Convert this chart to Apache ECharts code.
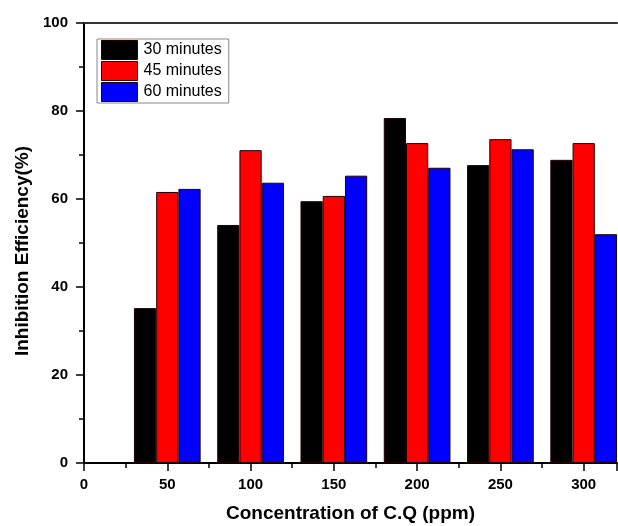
<!DOCTYPE html>
<html>
<head>
<meta charset="utf-8">
<script src="https://cdn.jsdelivr.net/npm/echarts@6/dist/echarts.min.js"></script>
<style>html,body{margin:0;padding:0;background:#fff}#c{width:618px;height:526px}</style>
</head>
<body>
<div id="c"></div>
<script>
const concentrations = [50, 100, 150, 200, 250, 300];
const seriesNames = ['30 minutes', '45 minutes', '60 minutes'];
const min30 = [35.2, 54.1, 59.5, 78.4, 67.7, 68.9];
const min45 = [61.6, 71.1, 60.7, 72.7, 73.6, 72.7];
const min60 = [62.3, 63.7, 65.3, 67.1, 71.3, 52.0];
const colors = ['#000000', '#ff0000', '#0000ff'];

const F = 'Liberation Sans, Arial, sans-serif';
const chart = echarts.init(document.getElementById('c'));
const values = [min30, min45, min60];
chart.setOption({
  animation: false,
  backgroundColor: '#fff',
  grid: { left: 84, top: 23, right: 1, bottom: 63, containLabel: false, outerBoundsMode: 'none' },
  legend: {
    orient: 'vertical', left: 97, top: 39, itemGap: 1,
    itemWidth: 36, itemHeight: 19, icon: 'rect',
    padding: [1, 7, 1, 4],
    borderColor: '#888', borderWidth: 1,
    itemStyle: { borderColor: '#220000', borderWidth: 1 },
    textStyle: { fontFamily: F, fontSize: 16, lineHeight: 19, color: '#000', padding: [0, 0, 0, 1] },
    data: seriesNames
  },
  xAxis: [{
    type: 'value', min: 0, max: 320, interval: 50,
    name: 'Concentration of C.Q (ppm)', nameLocation: 'middle', nameGap: 41,
    nameTextStyle: { fontFamily: F, fontSize: 19, fontWeight: 'bold', color: '#000' },
    axisLine: { show: true, lineStyle: { color: '#000', width: 2 } },
    axisTick: { show: true, length: 8, inside: false, lineStyle: { color: '#000', width: 1.5 } },
    minorTick: { show: true, splitNumber: 2, length: 5, lineStyle: { color: '#000', width: 1.5 } },
    axisLabel: { fontFamily: F, fontSize: 15, fontWeight: 'bold', color: '#000', margin: 14,
      formatter: v => (v > 300 ? '' : String(v)) },
    splitLine: { show: false }
  }, {
    type: 'value', min: 0, max: 320, position: 'top',
    axisLine: { show: true, onZero: false, lineStyle: { color: '#333', width: 2 } },
    axisTick: { show: false }, axisLabel: { show: false }, splitLine: { show: false }
  }],
  yAxis: {
    type: 'value', min: 0, max: 100, interval: 20,
    name: 'Inhibition Efficiency(%)', nameLocation: 'middle', nameGap: 52,
    nameTextStyle: { fontFamily: F, fontSize: 19, fontWeight: 'bold', color: '#000', padding: [0, 16, 0, 0] },
    axisLine: { show: true, lineStyle: { color: '#000', width: 2 } },
    axisTick: { show: true, length: 8, lineStyle: { color: '#000', width: 1.5 } },
    minorTick: { show: true, splitNumber: 2, length: 5, lineStyle: { color: '#000', width: 1.5 } },
    axisLabel: { fontFamily: F, fontSize: 15, fontWeight: 'bold', color: '#000', margin: 16 },
    splitLine: { show: false }
  },
  series: seriesNames.map((name, i) => ({
    name, type: 'bar', xAxisIndex: 0,
    barWidth: '26.7%', barGap: '0%',
    itemStyle: { color: colors[i], borderColor: '#220000', borderWidth: 1 },
    data: concentrations.map((c, j) => [c, values[i][j]])
  }))
});
</script>
</body>
</html>
